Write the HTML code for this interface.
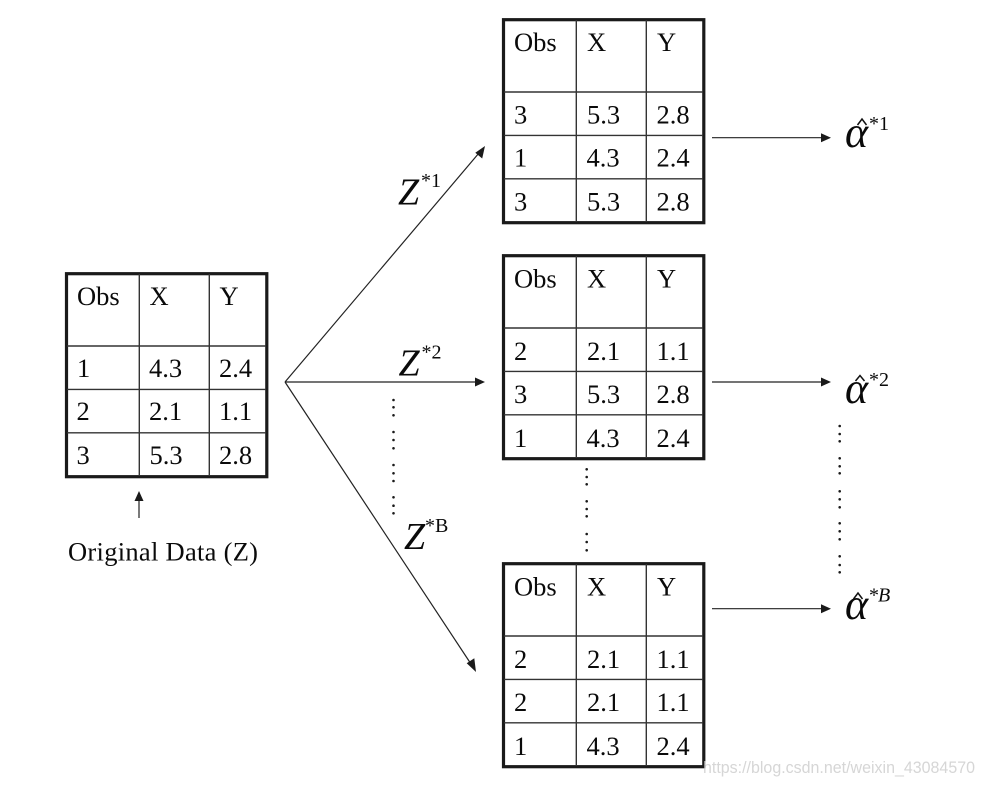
<!DOCTYPE html>
<html><head><meta charset="utf-8"><style>
html,body{margin:0;padding:0;background:#fff}
svg{display:block}
text{font-family:"Liberation Serif",serif;fill:#0a0a0a}
.t text{font-size:26.5px}
.i{font-style:italic}
</style></head><body>
<svg width="984" height="786" viewBox="0 0 984 786" xmlns="http://www.w3.org/2000/svg">
<defs>
<g id="grid">
<rect x="66.5" y="273.7" width="200.3" height="203" fill="#fff" stroke="#1a1a1a" stroke-width="3.2"/>
<path d="M139.3 274V476M209.3 274V476M67 346H266M67 389.4H266M67 432.8H266" stroke="#333" stroke-width="1.4" fill="none"/>
</g>
</defs>

<g class="t">
<use href="#grid"/>
<text x="77" y="305">Obs</text><text x="149.500" y="305">X</text><text x="219.500" y="305">Y</text>
<text x="77" y="377">1</text><text x="149" y="377">4.3</text><text x="219" y="377">2.4</text>
<text x="76.500" y="420">2</text><text x="149" y="420">2.1</text><text x="219" y="420">1.1</text>
<text x="76.500" y="464">3</text><text x="149.500" y="464">5.3</text><text x="219" y="464">2.8</text>
</g>

<g class="t" transform="translate(437,-254)">
<use href="#grid"/>
<text x="77" y="305">Obs</text><text x="150" y="305">X</text><text x="220" y="305">Y</text>
<text x="77" y="377.500">3</text><text x="150" y="377.500">5.3</text><text x="219.500" y="377.500">2.8</text>
<text x="77" y="420.700">1</text><text x="149.500" y="420.700">4.3</text><text x="219.500" y="420.700">2.4</text>
<text x="77" y="464.500">3</text><text x="150" y="464.500">5.3</text><text x="219.500" y="464.500">2.8</text>
</g>

<g class="t" transform="translate(437,-18)">
<use href="#grid"/>
<text x="77" y="305.500">Obs</text><text x="150" y="305.500">X</text><text x="220" y="305.500">Y</text>
<text x="77" y="378">2</text><text x="150" y="378">2.1</text><text x="219.500" y="378">1.1</text>
<text x="77" y="421">3</text><text x="150" y="421">5.3</text><text x="219.500" y="421">2.8</text>
<text x="77" y="465">1</text><text x="149.500" y="465">4.3</text><text x="219.500" y="465">2.4</text>
</g>

<g class="t" transform="translate(437,290)">
<use href="#grid"/>
<text x="77" y="305.500">Obs</text><text x="150" y="305.500">X</text><text x="220" y="305.500">Y</text>
<text x="77" y="378">2</text><text x="150" y="378">2.1</text><text x="219.500" y="378">1.1</text>
<text x="77" y="421">2</text><text x="150" y="421">2.1</text><text x="219.500" y="421">1.1</text>
<text x="77" y="465">1</text><text x="149.500" y="465">4.3</text><text x="219.500" y="465">2.4</text>
</g>

<text x="68" y="560.500" font-size="26.500" textLength="190" lengthAdjust="spacing">Original Data (Z)</text>

<!-- connectors -->
<g stroke="#222" stroke-width="1.2" fill="none">
<path d="M139 518V496"/>
<path d="M285 382L479 153"/>
<path d="M285 382H476"/>
<path d="M285 382L471 664"/>
<path d="M712 137.700H823"/>
<path d="M712 382H823"/>
<path d="M712 608.700H823"/>
</g>
<g fill="#1a1a1a">
<path d="M139 491L134.500 501H143.500Z"/>
<path d="M485 146L482.200 158.500L475.300 152.700Z"/>
<path d="M485 382L475 377.500V386.500Z"/>
<path d="M476 672L466.700 663.200L474.300 658.200Z"/>
<path d="M831 137.700L821 133.200V142.200Z"/>
<path d="M831 382L821 377.500V386.500Z"/>
<path d="M831 608.700L821 604.200V613.200Z"/>
</g>

<!-- Z labels -->
<text class="i" x="398" y="204.500" font-size="38">Z</text>
<text x="421" y="187" font-size="20">*1</text>
<text class="i" x="398.500" y="375.500" font-size="38">Z</text>
<text x="421.500" y="358.500" font-size="20">*2</text>
<text class="i" x="404" y="549" font-size="38">Z</text>
<text x="425" y="532" font-size="20">*B</text>

<!-- alpha labels -->
<text class="i" x="845" y="147" font-size="44">α</text>
<text x="869" y="130" font-size="20">*1</text>
<path d="M857.500 125L862 119L866.500 125" fill="none" stroke="#111" stroke-width="1.500"/>
<text class="i" x="845" y="403" font-size="44">α</text>
<text x="869" y="386" font-size="20">*2</text>
<path d="M855.500 381L860 375.500L864.500 381" fill="none" stroke="#111" stroke-width="1.500"/>
<text class="i" x="845" y="619" font-size="44">α</text>
<text x="869" y="601.500" font-size="20">*</text><text class="i" x="878" y="601.500" font-size="20">B</text>
<path d="M853.500 599L858 593L862.500 599" fill="none" stroke="#111" stroke-width="1.500"/>

<!-- dots -->
<g fill="#1a1a1a">
<circle cx="393.500" cy="400" r="1.300"/><circle cx="393.500" cy="407.300" r="1.300"/><circle cx="393.500" cy="415.300" r="1.300"/>
<circle cx="393.500" cy="432" r="1.300"/><circle cx="393.500" cy="440" r="1.300"/><circle cx="393.500" cy="448.300" r="1.300"/>
<circle cx="393.500" cy="465" r="1.300"/><circle cx="393.500" cy="473.300" r="1.300"/><circle cx="393.500" cy="481" r="1.300"/>
<circle cx="393.500" cy="497.300" r="1.300"/><circle cx="393.500" cy="505.700" r="1.300"/><circle cx="393.500" cy="513.300" r="1.300"/>
<circle cx="586.700" cy="469.300" r="1.300"/><circle cx="586.700" cy="477" r="1.300"/><circle cx="586.700" cy="484.300" r="1.300"/>
<circle cx="586.700" cy="501.300" r="1.300"/><circle cx="586.700" cy="509" r="1.300"/><circle cx="586.700" cy="516.300" r="1.300"/>
<circle cx="586.700" cy="534" r="1.300"/><circle cx="586.700" cy="542" r="1.300"/><circle cx="586.700" cy="550.300" r="1.300"/>
<circle cx="839.700" cy="426" r="1.300"/><circle cx="839.700" cy="434" r="1.300"/><circle cx="839.700" cy="441.300" r="1.300"/>
<circle cx="839.700" cy="458.300" r="1.300"/><circle cx="839.700" cy="466.300" r="1.300"/><circle cx="839.700" cy="473.300" r="1.300"/>
<circle cx="839.700" cy="491.300" r="1.300"/><circle cx="839.700" cy="499.300" r="1.300"/><circle cx="839.700" cy="507.300" r="1.300"/>
<circle cx="839.700" cy="523.300" r="1.300"/><circle cx="839.700" cy="531.300" r="1.300"/><circle cx="839.700" cy="539.300" r="1.300"/>
<circle cx="839.700" cy="556.300" r="1.300"/><circle cx="839.700" cy="565" r="1.300"/><circle cx="839.700" cy="572.300" r="1.300"/>
</g>

<text x="703" y="773" textLength="272" lengthAdjust="spacingAndGlyphs" font-size="17" style="font-family:'Liberation Sans',sans-serif;fill:#c8c8c8;fill-opacity:.75">https://blog.csdn.net/weixin_43084570</text>
</svg>
</body></html>
